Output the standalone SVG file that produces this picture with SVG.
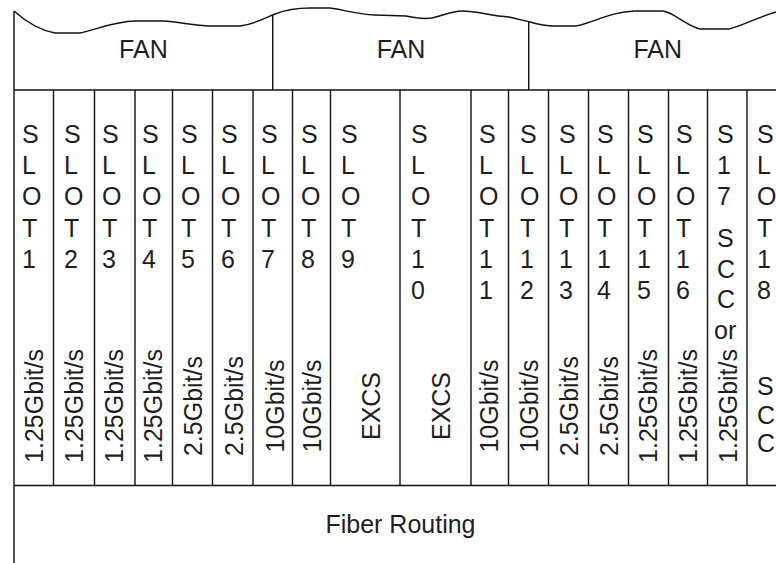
<svg xmlns="http://www.w3.org/2000/svg" width="776" height="563" viewBox="0 0 776 563">
<style>
.ln{stroke:#111;stroke-width:1.4;fill:none}
text{font-family:"Liberation Sans",Arial,sans-serif;font-size:25px;fill:#1e1e1e}
.m{text-anchor:middle}
</style>
<rect width="776" height="563" fill="#fff"/>
<g id="frame">
<path class="ln" d="M14,11 C24,20 38,30 55,33 L80,33 C95,30 115,21 135,21 L163,21 C180,22 195,26 210,26 L240,26 C255,24 265,18 275,14 C285,10 295,8 310,8 L330,8 C345,10 355,14 375,15 L406,16 C415,18 425,19 432,18 C445,15 452,11 462,11 C478,11 490,16 509,17 C518,19 525,21 530,22 C540,25 548,26 555,26 L576,26 C595,22 610,12 635,11 L663,11 C675,13 685,25 700,29 L729,29 C740,27 755,18 776,12"/>
<path class="ln" d="M14,11 V563 M14,90 H776 M14,485.5 H776 M272.7,14.5 V90 M528.7,21.7 V90"/>
<path class="ln" d="M53.5,90V485.5 M94.5,90V485.5 M135,90V485.5 M172.5,90V485.5 M212.5,90V485.5 M253,90V485.5 M292.5,90V485.5 M330.5,90V485.5 M400,90V485.5 M471,90V485.5 M508.5,90V485.5 M548.5,90V485.5 M588.5,90V485.5 M628.5,90V485.5 M668.5,90V485.5 M707.5,90V485.5 M747,90V485.5"/>
</g>
<g id="fan1"><text class="m" x="143.4" y="58">FAN</text></g>
<g id="fan2"><text class="m" x="401" y="58">FAN</text></g>
<g id="fan3"><text class="m" x="657.7" y="58">FAN</text></g>
<g id="slot1"><text><tspan x="22" y="143">S</tspan><tspan x="22" y="174">L</tspan><tspan x="22" y="205">O</tspan><tspan x="22" y="237">T</tspan><tspan x="22" y="268">1</tspan></text><text class="m" transform="translate(43,406) rotate(-90)">1.25Gbit/s</text></g>
<g id="slot2"><text><tspan x="64" y="143">S</tspan><tspan x="64" y="174">L</tspan><tspan x="64" y="205">O</tspan><tspan x="64" y="237">T</tspan><tspan x="64" y="268">2</tspan></text><text class="m" transform="translate(83,406) rotate(-90)">1.25Gbit/s</text></g>
<g id="slot3"><text><tspan x="102" y="143">S</tspan><tspan x="102" y="174">L</tspan><tspan x="102" y="205">O</tspan><tspan x="102" y="237">T</tspan><tspan x="102" y="268">3</tspan></text><text class="m" transform="translate(123,406) rotate(-90)">1.25Gbit/s</text></g>
<g id="slot4"><text><tspan x="142" y="143">S</tspan><tspan x="142" y="174">L</tspan><tspan x="142" y="205">O</tspan><tspan x="142" y="237">T</tspan><tspan x="142" y="268">4</tspan></text><text class="m" transform="translate(162,406) rotate(-90)">1.25Gbit/s</text></g>
<g id="slot5"><text><tspan x="181" y="143">S</tspan><tspan x="181" y="174">L</tspan><tspan x="181" y="205">O</tspan><tspan x="181" y="237">T</tspan><tspan x="181" y="268">5</tspan></text><text class="m" transform="translate(202,406) rotate(-90)">2.5Gbit/s</text></g>
<g id="slot6"><text><tspan x="221" y="143">S</tspan><tspan x="221" y="174">L</tspan><tspan x="221" y="205">O</tspan><tspan x="221" y="237">T</tspan><tspan x="221" y="268">6</tspan></text><text class="m" transform="translate(243,406) rotate(-90)">2.5Gbit/s</text></g>
<g id="slot7"><text><tspan x="261" y="143">S</tspan><tspan x="261" y="174">L</tspan><tspan x="261" y="205">O</tspan><tspan x="261" y="237">T</tspan><tspan x="261" y="268">7</tspan></text><text class="m" transform="translate(284,406) rotate(-90)">10Gbit/s</text></g>
<g id="slot8"><text><tspan x="301" y="143">S</tspan><tspan x="301" y="174">L</tspan><tspan x="301" y="205">O</tspan><tspan x="301" y="237">T</tspan><tspan x="301" y="268">8</tspan></text><text class="m" transform="translate(321,406) rotate(-90)">10Gbit/s</text></g>
<g id="slot9"><text><tspan x="341" y="143">S</tspan><tspan x="341" y="174">L</tspan><tspan x="341" y="205">O</tspan><tspan x="341" y="237">T</tspan><tspan x="341" y="268">9</tspan></text><text class="m" transform="translate(380,406) rotate(-90)">EXCS</text></g>
<g id="slot10"><text><tspan x="411" y="143">S</tspan><tspan x="411" y="174">L</tspan><tspan x="411" y="205">O</tspan><tspan x="411" y="237">T</tspan><tspan x="411" y="268">1</tspan><tspan x="411" y="299">0</tspan></text><text class="m" transform="translate(450,406) rotate(-90)">EXCS</text></g>
<g id="slot11"><text><tspan x="479" y="143">S</tspan><tspan x="479" y="174">L</tspan><tspan x="479" y="205">O</tspan><tspan x="479" y="237">T</tspan><tspan x="479" y="268">1</tspan><tspan x="479" y="299">1</tspan></text><text class="m" transform="translate(498,406) rotate(-90)">10Gbit/s</text></g>
<g id="slot12"><text><tspan x="520" y="143">S</tspan><tspan x="520" y="174">L</tspan><tspan x="520" y="205">O</tspan><tspan x="520" y="237">T</tspan><tspan x="520" y="268">1</tspan><tspan x="520" y="299">2</tspan></text><text class="m" transform="translate(538,406) rotate(-90)">10Gbit/s</text></g>
<g id="slot13"><text><tspan x="559" y="143">S</tspan><tspan x="559" y="174">L</tspan><tspan x="559" y="205">O</tspan><tspan x="559" y="237">T</tspan><tspan x="559" y="268">1</tspan><tspan x="559" y="299">3</tspan></text><text class="m" transform="translate(578,406) rotate(-90)">2.5Gbit/s</text></g>
<g id="slot14"><text><tspan x="597" y="143">S</tspan><tspan x="597" y="174">L</tspan><tspan x="597" y="205">O</tspan><tspan x="597" y="237">T</tspan><tspan x="597" y="268">1</tspan><tspan x="597" y="299">4</tspan></text><text class="m" transform="translate(618,406) rotate(-90)">2.5Gbit/s</text></g>
<g id="slot15"><text><tspan x="637" y="143">S</tspan><tspan x="637" y="174">L</tspan><tspan x="637" y="205">O</tspan><tspan x="637" y="237">T</tspan><tspan x="637" y="268">1</tspan><tspan x="637" y="299">5</tspan></text><text class="m" transform="translate(657,406) rotate(-90)">1.25Gbit/s</text></g>
<g id="slot16"><text><tspan x="676" y="143">S</tspan><tspan x="676" y="174">L</tspan><tspan x="676" y="205">O</tspan><tspan x="676" y="237">T</tspan><tspan x="676" y="268">1</tspan><tspan x="676" y="299">6</tspan></text><text class="m" transform="translate(697,406) rotate(-90)">1.25Gbit/s</text></g>
<g id="slot17"><text><tspan x="717" y="143">S</tspan><tspan x="717" y="174">1</tspan><tspan x="717" y="205">7</tspan><tspan x="717" y="247">S</tspan><tspan x="717" y="277.5">C</tspan><tspan x="717" y="308">C</tspan><tspan x="714" y="339">or</tspan></text><text class="m" transform="translate(737,406) rotate(-90)">1.25Gbit/s</text></g>
<g id="slot18"><text><tspan x="757" y="143">S</tspan><tspan x="757" y="174">L</tspan><tspan x="757" y="205">O</tspan><tspan x="757" y="237">T</tspan><tspan x="757" y="268">1</tspan><tspan x="757" y="299">8</tspan><tspan x="757" y="395">S</tspan><tspan x="757" y="423.5">C</tspan><tspan x="757" y="452">C</tspan></text></g>
<g id="fiber-routing"><text class="m" x="400.5" y="533">Fiber Routing</text></g>
</svg>
